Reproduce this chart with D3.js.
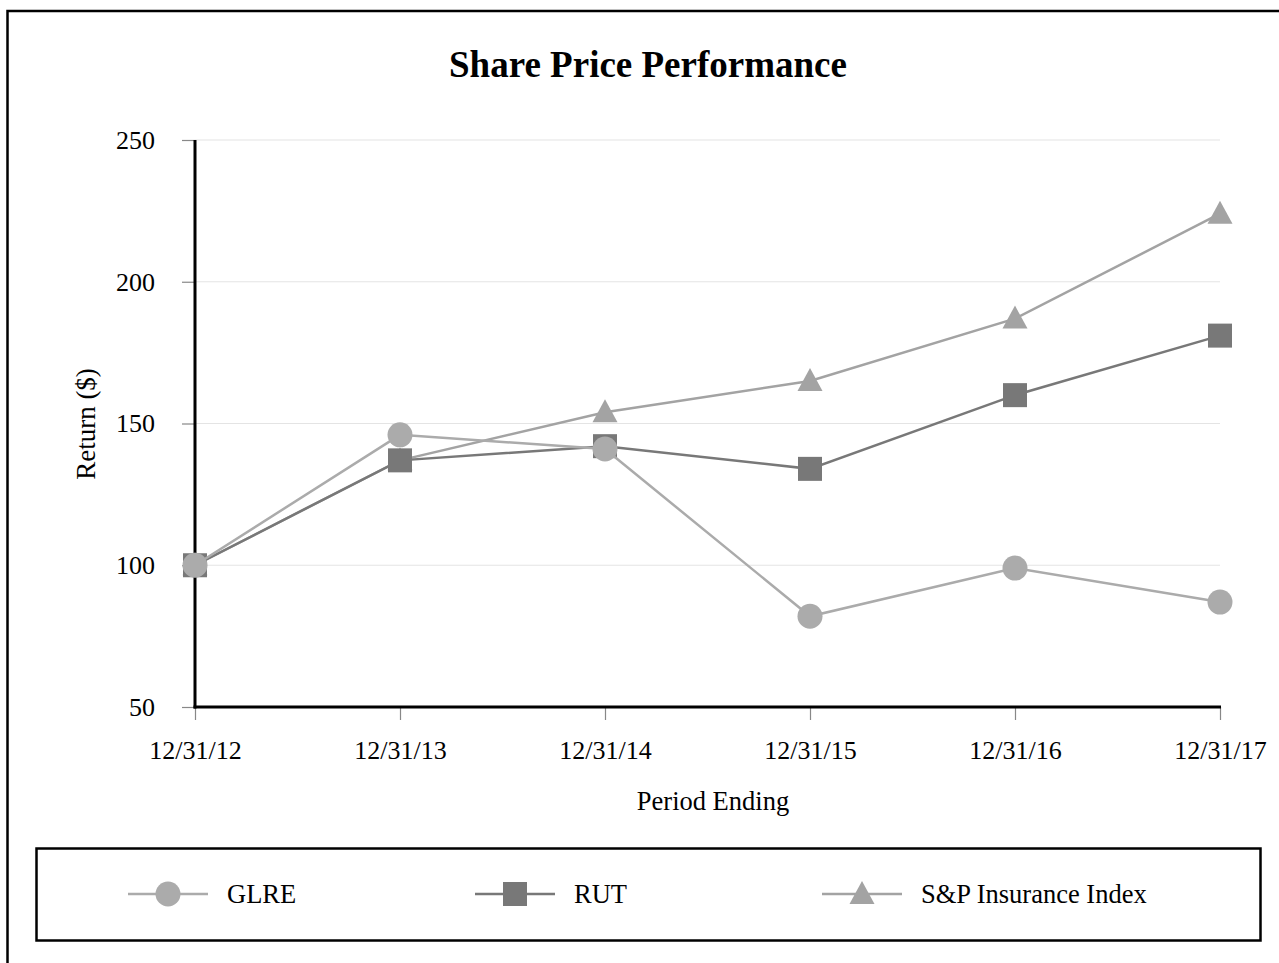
<!DOCTYPE html>
<html><head><meta charset="utf-8">
<script src="https://cdn.jsdelivr.net/npm/d3@7"></script>
<style>body{margin:0;background:#fff}svg{display:block}</style>
</head><body>
<svg id="c" width="1279" height="963"></svg>
<script>
const categories = ["12/31/12","12/31/13","12/31/14","12/31/15","12/31/16","12/31/17"];
const glre = [100,146,141,82,99,87];
const rut = [100,137,142,134,160,181];
const spins = [100,137,154,165,187,224];
const yTicks = [50,100,150,200,250];
const seriesNames = ["GLRE","RUT","S&P Insurance Index"];

const series = [
  {name:seriesNames[2], values:spins, color:"#a3a3a3", shape:"triangle"},
  {name:seriesNames[1], values:rut, color:"#787878", shape:"square"},
  {name:seriesNames[0], values:glre, color:"#ababab", shape:"circle"}
];

const svg = d3.select("#c");
const font = "'Liberation Serif','Times New Roman',serif";

svg.append("rect").attr("x",7.5).attr("y",11).attr("width",1290).attr("height",970)
  .attr("fill","none").attr("stroke","#000").attr("stroke-width",2.5);

svg.append("text").attr("x",648).attr("y",77).attr("text-anchor","middle")
  .attr("font-family",font).attr("font-weight","bold").attr("font-size",37)
  .text("Share Price Performance");

const x = d3.scalePoint().domain(categories).range([195,1220]);
const y = d3.scaleLinear().domain([50,250]).range([707,140]);

// grid
svg.append("g").selectAll("line").data(yTicks.filter(d=>d>50)).join("line")
  .attr("x1",195).attr("x2",1220).attr("y1",d=>y(d)).attr("y2",d=>y(d))
  .attr("stroke","#e4e4e4").attr("stroke-width",1.2);

// y axis
const ya = svg.append("g").attr("transform","translate(195,0)")
  .call(d3.axisLeft(y).tickValues(yTicks).tickSize(13).tickPadding(27));
ya.select(".domain").remove();
ya.selectAll(".tick line").attr("stroke","#888").attr("stroke-width",1.2);
ya.selectAll(".tick text").attr("font-family",font).attr("font-size",26).attr("fill","#000");

// x axis
const xa = svg.append("g").attr("transform","translate(0,707)")
  .call(d3.axisBottom(x).tickSize(13).tickPadding(21));
xa.select(".domain").remove();
xa.selectAll(".tick line").attr("stroke","#888").attr("stroke-width",1.2);
xa.selectAll(".tick text").attr("font-family",font).attr("font-size",26).attr("fill","#000");

svg.append("line").attr("x1",195).attr("x2",195).attr("y1",140).attr("y2",708.5).attr("stroke","#000").attr("stroke-width",3);
svg.append("line").attr("x1",193.5).attr("x2",1221).attr("y1",707).attr("y2",707).attr("stroke","#000").attr("stroke-width",3);

svg.append("text").attr("transform","translate(95,424) rotate(-90)").attr("text-anchor","middle")
  .attr("font-family",font).attr("font-size",27).text("Return ($)");
svg.append("text").attr("x",713).attr("y",810).attr("text-anchor","middle")
  .attr("font-family",font).attr("font-size",26.5).text("Period Ending");

function marker(g, shape, cx, cy, color){
  if(shape==="circle") g.append("circle").attr("cx",cx).attr("cy",cy).attr("r",12.5).attr("fill",color);
  else if(shape==="square") g.append("rect").attr("x",cx-12).attr("y",cy-12).attr("width",24).attr("height",24).attr("fill",color);
  else g.append("path").attr("d",`M${cx},${cy-13}L${cx+12.5},${cy+10}L${cx-12.5},${cy+10}Z`).attr("fill",color);
}

const line = d3.line().x((d,i)=>x(categories[i])).y(d=>y(d));
series.forEach(s=>{
  const g = svg.append("g");
  g.append("path").attr("d",line(s.values)).attr("fill","none").attr("stroke",s.color).attr("stroke-width",2.5);
  s.values.forEach((v,i)=>marker(g,s.shape,x(categories[i]),y(v),s.color));
});

// legend
svg.append("rect").attr("x",36.5).attr("y",848.5).attr("width",1224).attr("height",92)
  .attr("fill","none").attr("stroke","#000").attr("stroke-width",2.5);
const legItems = [series[2],series[1],series[0]];
const legX = [128,475,822];
legItems.forEach((s,i)=>{
  const lx = legX[i], ly = 894;
  const g = svg.append("g");
  g.append("line").attr("x1",lx).attr("x2",lx+80).attr("y1",ly).attr("y2",ly).attr("stroke",s.color).attr("stroke-width",2.5);
  marker(g,s.shape,lx+40,ly,s.color);
  g.append("text").attr("x",lx+99).attr("y",ly+9).attr("font-family",font).attr("font-size",26.5).text(s.name);
});
</script>
</body></html>
